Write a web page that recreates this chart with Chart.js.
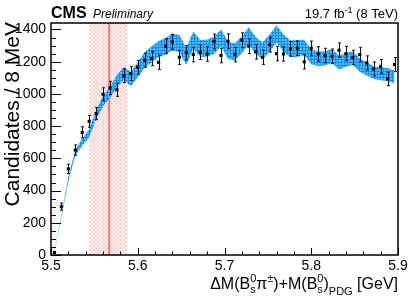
<!DOCTYPE html>
<html>
<head>
<meta charset="utf-8">
<script src="https://cdn.jsdelivr.net/npm/chart.js@4.4.1/dist/chart.umd.min.js"></script>
<style>
  html, body { margin: 0; padding: 0; background: #fff; }
  #wrap { width: 415px; height: 298px; }
</style>
</head>
<body>
<div id="wrap"><canvas id="massChart" width="415" height="298"></canvas></div>
<script>
// Centres des bins (GeV), 8 MeV
const binCenters = [5.504, 5.512, 5.520, 5.528, 5.536, 5.544, 5.552, 5.560, 5.568, 5.576,
                    5.584, 5.592, 5.600, 5.608, 5.616, 5.624, 5.632, 5.640, 5.648, 5.656,
                    5.664, 5.672, 5.680, 5.688, 5.696, 5.704, 5.712, 5.720, 5.728, 5.736,
                    5.744, 5.752, 5.760, 5.768, 5.776, 5.784, 5.792, 5.800, 5.808, 5.816,
                    5.824, 5.832, 5.840, 5.848, 5.856, 5.864, 5.872, 5.880, 5.888, 5.896];

// Données (candidats / 8 MeV)
const counts = [16, 300, 535, 651, 761, 830, 878, 998, 1037, 1026,
                1113, 1126, 1165, 1209, 1219, 1196, 1296, 1323, 1227, 1255,
                1244, 1258, 1248, 1325, 1238, 1327, 1244, 1333, 1296, 1261,
                1227, 1306, 1250, 1248, 1280, 1283, 1199, 1283, 1248, 1238,
                1233, 1271, 1250, 1227, 1244, 1192, 1155, 1171, 1093, 1182];

const countErrors = [5, 22, 29, 32, 35, 37, 38, 40, 41, 41,
                     42, 43, 43, 44, 44, 44, 46, 46, 44, 45,
                     45, 45, 45, 46, 45, 46, 45, 46, 46, 45,
                     44, 46, 45, 45, 45, 45, 44, 45, 45, 45,
                     45, 45, 45, 44, 45, 44, 43, 43, 42, 44];

// Bande du modèle (centre et demi-largeur)
const bandMid = [25, 240, 470, 635, 700, 755, 870, 955, 1010, 1080,
                 1127, 1092, 1150, 1210, 1245, 1278, 1295, 1322, 1312, 1232,
                 1335, 1282, 1285, 1300, 1348, 1270, 1262, 1305, 1360, 1300,
                 1268, 1315, 1372, 1315, 1280, 1282, 1288, 1230, 1218, 1220,
                 1235, 1195, 1212, 1222, 1178, 1155, 1132, 1125, 1120, 1105];

const bandHalf = [3, 8, 14, 18, 22, 25, 28, 32, 35, 38,
                  41, 44, 46, 48, 50, 51, 52, 53, 53, 53,
                  53, 53, 53, 53, 53, 53, 53, 53, 53, 53,
                  53, 53, 53, 53, 53, 52, 48, 46, 45, 44,
                  44, 43, 42, 42, 41, 41, 40, 40, 40, 40];

// Zone de seuil (rouge)
const thresholdRange = [5.544, 5.588];
const thresholdLine = 5.567;

// Axes
const xTicks = [5.5, 5.6, 5.7, 5.8, 5.9];
const yTicks = [0, 200, 400, 600, 800, 1000, 1200, 1400];
const xRange = [5.5, 5.9];
const yRange = [0, 1440];

Chart.defaults.font.family = '"Liberation Sans", Arial, Helvetica, sans-serif';

// Motif hachuré pour la bande bleue
function makeBluePattern() {
    const c = document.createElement('canvas');
    c.width = 3; c.height = 3;
    const g = c.getContext('2d');
    g.fillStyle = '#0f92ee';
    g.fillRect(0, 0, 3, 3);
    g.fillStyle = '#52baff';
    g.fillRect(0, 0, 2, 2);
    return g.createPattern(c, 'repeat');
}

// Motif hachuré rose pour la zone de seuil
function makePinkPattern(ctx) {
    const c = document.createElement('canvas');
    c.width = 4; c.height = 4;
    const g = c.getContext('2d');
    g.fillStyle = 'rgba(255, 120, 120, 0.07)';
    g.fillRect(0, 0, 4, 4);
    g.fillStyle = 'rgba(240, 110, 110, 0.28)';
    [[0, 0], [1, 1], [2, 2], [3, 3], [3, 0], [2, 1], [1, 2], [0, 3]].forEach(p => g.fillRect(p[0], p[1], 1, 1));
    return ctx.createPattern(c, 'repeat');
}

// Texte avec indices / exposants
function drawRich(ctx, segs, x, baseline, align) {
    let widths = [];
    let total = 0;
    let lastW = 0;
    segs.forEach(s => {
        ctx.font = (s.style || '') + ' ' + s.size + 'px "Liberation Sans", Arial, sans-serif';
        const w = ctx.measureText(s.t).width;
        widths.push(w);
        if (s.same) {
            total += Math.max(0, w - lastW);
            lastW = Math.max(w, lastW);
        } else {
            total += w;
            lastW = w;
        }
    });
    let cx = align === 'right' ? x - total : x;
    let start = cx, prevW = 0;
    ctx.textAlign = 'left';
    ctx.textBaseline = 'alphabetic';
    segs.forEach((s, i) => {
        ctx.font = (s.style || '') + ' ' + s.size + 'px "Liberation Sans", Arial, sans-serif';
        if (s.same) {
            ctx.fillText(s.t, start, baseline + (s.dy || 0));
            cx = start + Math.max(prevW, widths[i]);
        } else {
            start = cx;
            ctx.fillText(s.t, start, baseline + (s.dy || 0));
            cx = start + widths[i];
            prevW = widths[i];
        }
    });
}

// Style "ROOT" : cadre, graduations internes, textes
const rootStyle = {
    id: 'rootStyle',
    beforeDatasetsDraw(chart) {
        const { ctx, chartArea: a, scales: { x } } = chart;
        ctx.save();
        const x0 = x.getPixelForValue(thresholdRange[0]);
        const x1 = x.getPixelForValue(thresholdRange[1]);
        ctx.fillStyle = makePinkPattern(ctx);
        ctx.fillRect(x0, a.top, x1 - x0, a.bottom - a.top);
        const xl = x.getPixelForValue(thresholdLine);
        ctx.strokeStyle = '#f47a7a';
        ctx.lineWidth = 2;
        ctx.beginPath();
        ctx.moveTo(xl, a.top);
        ctx.lineTo(xl, a.bottom);
        ctx.stroke();
        ctx.restore();
    },
    beforeDatasetDraw(chart, args) {
        if (args.index !== 0) return;
        const { ctx, scales: { x, y } } = chart;
        ctx.save();
        ctx.strokeStyle = '#111';
        ctx.lineWidth = 1;
        counts.forEach((v, i) => {
            const px = Math.round(x.getPixelForValue(binCenters[i])) + 0.5;
            const yt = y.getPixelForValue(v + countErrors[i]);
            const yb = y.getPixelForValue(v - countErrors[i]);
            ctx.beginPath();
            ctx.moveTo(px, yt); ctx.lineTo(px, yb);
            ctx.moveTo(px - 1.5, yt); ctx.lineTo(px + 1.5, yt);
            ctx.moveTo(px - 1.5, yb); ctx.lineTo(px + 1.5, yb);
            ctx.stroke();
        });
        ctx.restore();
    },
    afterDraw(chart) {
        const { ctx, chartArea: a, scales: { x, y } } = chart;
        ctx.save();
        ctx.strokeStyle = '#000';
        ctx.lineWidth = 1;
        ctx.beginPath();
        // graduations Y
        for (let k = 0; k * 50 <= yRange[1]; k++) {
            const v = k * 50;
            const py = Math.round(y.getPixelForValue(v)) + 0.5;
            const len = v % 200 === 0 ? 10 : 5;
            ctx.moveTo(a.left, py); ctx.lineTo(a.left + len, py);
        }
        // graduations X
        for (let k = 0; k <= 20; k++) {
            const v = xRange[0] + k * 0.02;
            const px = Math.round(x.getPixelForValue(v)) + 0.5;
            const len = k % 5 === 0 ? 7 : 3.5;
            ctx.moveTo(px, a.bottom); ctx.lineTo(px, a.bottom - len);
        }
        ctx.stroke();
        // cadre
        ctx.lineWidth = 1.5;
        ctx.strokeRect(a.left, a.top, a.right - a.left, a.bottom - a.top);

        ctx.fillStyle = '#000';
        // CMS Preliminary
        ctx.textAlign = 'left';
        ctx.textBaseline = 'alphabetic';
        ctx.font = 'bold 16px "Liberation Sans", Arial, sans-serif';
        ctx.fillText('CMS', a.left, 18);
        ctx.font = 'italic 12px "Liberation Sans", Arial, sans-serif';
        ctx.fillText('Preliminary', 93, 18);
        // Luminosité
        drawRich(ctx, [
            { t: '19.7 fb', size: 13 },
            { t: '-1', size: 9, dy: -5 },
            { t: ' (8 TeV)', size: 13 }
        ], a.right, 18, 'right');
        // Titre axe X
        drawRich(ctx, [
            { t: 'ΔM(B', size: 16 },
            { t: '0', size: 11, dy: -7 },
            { t: 's', size: 11, dy: 4, same: true },
            { t: 'π', size: 16 },
            { t: '±', size: 11, dy: -7 },
            { t: ')+M(B', size: 16 },
            { t: '0', size: 11, dy: -7 },
            { t: 's', size: 11, dy: 4, same: true },
            { t: ')', size: 16 },
            { t: 'PDG', size: 11, dy: 6 },
            { t: ' [GeV]', size: 16 }
        ], a.right, 289, 'right');
        // Titre axe Y
        ctx.save();
        ctx.translate(19, a.top - 1);
        ctx.rotate(-Math.PI / 2);
        ctx.textAlign = 'right';
        ctx.font = '21px "Liberation Sans", Arial, sans-serif';
        ctx.fillText('Candidates / 8 MeV', 0, 0);
        ctx.restore();
        ctx.restore();
    }
};

const ctx = document.getElementById('massChart');
const bluePattern = makeBluePattern();

new Chart(ctx, {
    type: 'scatter',
    data: {
        datasets: [{
            label: 'Données',
            data: binCenters.map((m, i) => ({ x: m, y: counts[i] })),
            pointStyle: 'rect',
            pointRadius: 2.2,
            pointBorderWidth: 0,
            backgroundColor: '#000',
            borderColor: '#000',
            showLine: false,
            order: 0
        }, {
            label: 'Bande basse',
            data: binCenters.map((m, i) => ({ x: m, y: bandMid[i] - bandHalf[i] })),
            showLine: true,
            pointRadius: 0,
            borderWidth: 0,
            borderColor: 'rgba(0,0,0,0)',
            fill: false,
            tension: 0,
            order: 2
        }, {
            label: 'Modèle',
            data: binCenters.map((m, i) => ({ x: m, y: bandMid[i] + bandHalf[i] })),
            showLine: true,
            pointRadius: 0,
            borderWidth: 0,
            borderColor: 'rgba(0,0,0,0)',
            backgroundColor: bluePattern,
            fill: 1,
            tension: 0,
            order: 1
        }]
    },
    options: {
        responsive: false,
        animation: false,
        layout: { padding: { top: 23, right: 17, left: 0, bottom: 0 } },
        plugins: {
            legend: { display: false },
            tooltip: { enabled: false }
        },
        scales: {
            x: {
                type: 'linear',
                min: xRange[0],
                max: xRange[1],
                afterBuildTicks: s => { s.ticks = xTicks.map(v => ({ value: v })); },
                afterFit: s => { s.height = 43; },
                ticks: {
                    color: '#000',
                    padding: 3,
                    font: { size: 14 },
                    maxRotation: 0,
                    callback: v => v.toFixed(1)
                },
                grid: { display: false, drawTicks: false },
                border: { display: false }
            },
            y: {
                min: yRange[0],
                max: yRange[1],
                afterBuildTicks: s => { s.ticks = yTicks.map(v => ({ value: v })); },
                afterFit: s => { s.width = 51; },
                ticks: {
                    color: '#000',
                    padding: 5,
                    font: { size: 14 },
                    callback: v => String(v)
                },
                grid: { display: false, drawTicks: false },
                border: { display: false }
            }
        }
    },
    plugins: [rootStyle]
});
</script>
</body>
</html>
